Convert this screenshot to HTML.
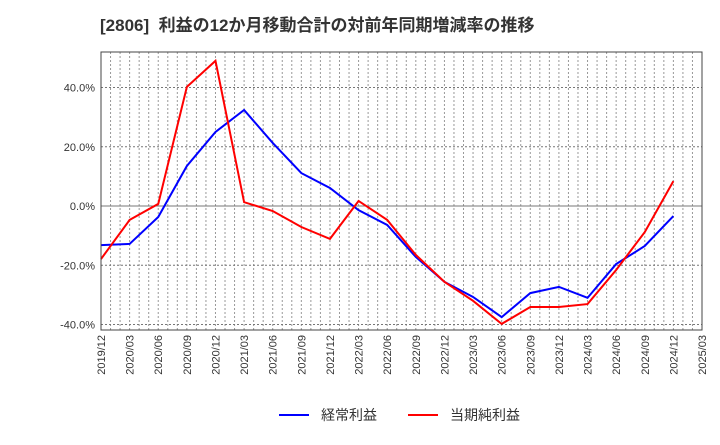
<!DOCTYPE html>
<html><head><meta charset="utf-8"><style>
body{margin:0;background:#fff;font-family:"Liberation Sans","Noto Sans CJK JP",sans-serif}
</style></head><body>
<svg id="c" width="720" height="440" xmlns="http://www.w3.org/2000/svg">
<text x="100" y="31" font-size="17" font-weight="bold" fill="#333" xml:space="preserve" font-family="Liberation Sans, Noto Sans CJK JP, sans-serif">[2806]  利益の12か月移動合計の対前年同期増減率の推移</text>
<g id="grid"></g><g id="series"></g><g id="axes"></g>
<g font-size="14" fill="#333" font-family="Liberation Sans, Noto Sans CJK JP, sans-serif">
<line x1="279" y1="415" x2="309" y2="415" stroke="#0000ff" stroke-width="2"/>
<text x="321" y="420">経常利益</text>
<line x1="408" y1="415" x2="438" y2="415" stroke="#ff0000" stroke-width="2"/>
<text x="450" y="420">当期純利益</text>
</g>
</svg>
<script>
const categories=["2019/12","2020/03","2020/06","2020/09","2020/12","2021/03","2021/06","2021/09","2021/12","2022/03","2022/06","2022/09","2022/12","2023/03","2023/06","2023/09","2023/12","2024/03","2024/06","2024/09","2024/12","2025/03"];
const keijo=[-13.2,-12.8,-3.7,13.5,25,32.4,21.3,11.1,6.1,-1.4,-6.4,-17.2,-25.6,-30.7,-37.5,-29.4,-27.3,-31,-19.6,-13.5,-3.4];
const junri=[-17.9,-4.7,0.7,40.2,49,1.3,-1.7,-7.1,-11.1,1.7,-4.7,-16.5,-25.6,-32,-39.8,-34.1,-34.1,-33.1,-21.6,-8.8,8.4];
const yTicks=[40,20,0,-20,-40];
const yTickLabels=["40.0%","20.0%","0.0%","-20.0%","-40.0%"];
const X0=101,X1=702,Y0=52,Y1=330;
const ns="http://www.w3.org/2000/svg";
const x=i=>X0+(X1-X0)*i/(categories.length-1);
const y=v=>206-v*59.25/20;
function mk(tag,attrs,parent){const e=document.createElementNS(ns,tag);for(const k in attrs)e.setAttribute(k,attrs[k]);document.getElementById(parent).appendChild(e);return e;}
const months=(categories.length-1)*3;
for(let m=1;m<months;m++){const gx=X0+(X1-X0)*m/months;
const l=mk('line',{x1:gx,x2:gx,y1:Y0,y2:Y1,stroke:'#999','stroke-dasharray':'2,2','stroke-width':1},'grid');

}
yTicks.forEach((t,i)=>{const gy=y(t);
const l=mk('line',{x1:X0,x2:X1,y1:gy,y2:gy,stroke:'#777','stroke-dasharray':t===0?'':'2,2','stroke-width':1},'grid');


const tx=mk('text',{x:X0-6,y:gy+4,'text-anchor':'end','font-size':11,fill:'#333'},'axes');tx.textContent=yTickLabels[i];

});
categories.forEach((c,i)=>{const tx=mk('text',{transform:`translate(${x(i)+4},${Y1+5}) rotate(-90)`,'text-anchor':'end','font-size':11,fill:'#333'},'axes');tx.textContent=c;

});
const fr=mk('rect',{x:X0,y:Y0,width:X1-X0,height:Y1-Y0,fill:'none',stroke:'#444','stroke-width':1},'axes');


function line(d,col,name){const p=mk('polyline',{points:d.map((v,i)=>x(i)+','+y(v)).join(' '),fill:'none',stroke:col,'stroke-width':2},'series');

}
line(keijo,'#0000ff','keijo-line');
line(junri,'#ff0000','junri-line');
</script>
</body></html>
